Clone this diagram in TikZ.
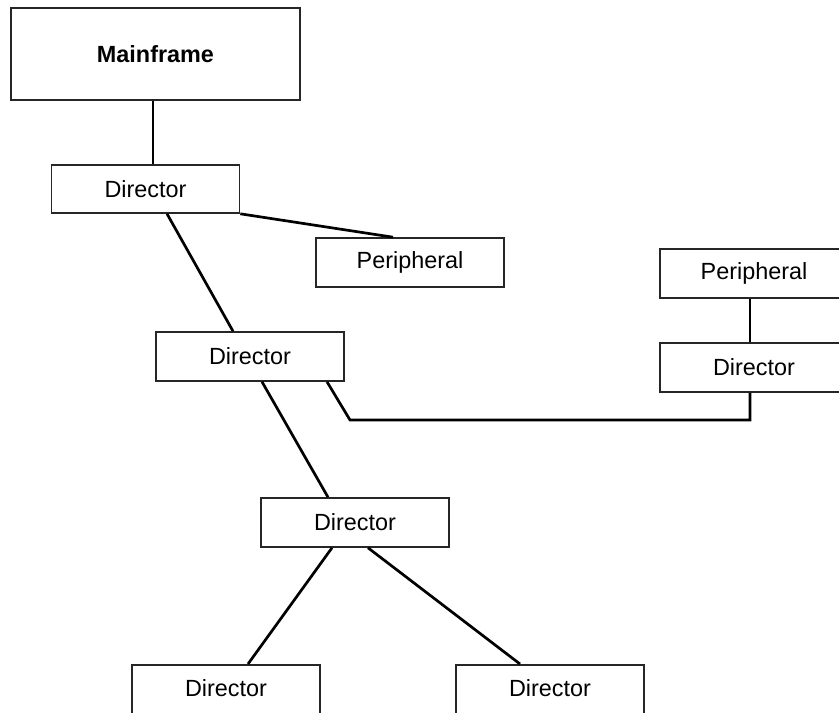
\documentclass[tikz,border=0pt]{standalone}
\usepackage{fontspec}
\setmainfont{Liberation Sans}
\usetikzlibrary{calc}

\tikzset{
  unit/.style={draw=black!85, line width=0.8pt, inner sep=0pt, minimum width=94pt, minimum height=24pt, font=\fontsize{11.7}{14}\selectfont},
  link/.style={line width=1.35pt, line join=miter}
}

\begin{document}
\begin{tikzpicture}[x=0.5pt, y=-0.5pt]
  \useasboundingbox (0,0) rectangle (839,712);
  \begin{scope}
  \clip (0,0) rectangle (839,712);
  % host and top director
  \node[unit, minimum width=144.5pt, minimum height=46pt, font=\fontsize{11.7}{14}\selectfont\bfseries] (main) at (155.5,54) {Mainframe};
  \node[unit] (dirA) at (145.5,189) {Director};
  \node[unit, minimum height=24.5pt] (perA) at (410,262.5) {Peripheral};
  \node[unit, minimum height=24.5pt] (dirB) at (250,356.5) {Director};
  % right branch
  \node[unit, minimum height=24.5pt] (perB) at (754,273.5) {Peripheral};
  \node[unit, minimum height=24.5pt] (dirC) at (754,367.5) {Director};
  % lower tree, bottom edges run off the page
  \node[unit, minimum height=26pt, anchor=north] (dirE) at (226,664) {\raisebox{2.5pt}{Director}};
  \node[unit, minimum height=26pt, anchor=north] (dirF) at (550,664) {\raisebox{2.5pt}{Director}};
  \node[unit, minimum height=24.5pt] (dirD) at (355,522.5) {Director};
  \coordinate (bend) at (350,420);

  \draw[link] ([xshift=-1.25pt]main.south) -- ([xshift=3.75pt]dirA.north);
  \draw[link] (dirA.south east) -- ([xshift=-8.5pt]perA.north);
  \draw[link] ([xshift=10.75pt]dirA.south) -- ([xshift=-8.5pt]dirB.north);
  \draw[link] ([xshift=6pt]dirB.south) -- ([xshift=-13.5pt]dirD.north);
  \draw[link] ([xshift=38.5pt]dirB.south) -- (bend) -| ([xshift=-2pt]dirC.south);
  \draw[link] ([xshift=-2pt]perB.south) -- ([xshift=-2pt]dirC.north);
  \draw[link] ([xshift=-11.5pt]dirD.south) -- ([xshift=11pt]dirE.north);
  \draw[link] ([xshift=6.5pt]dirD.south) -- ([xshift=-15pt]dirF.north);
  \end{scope}
\end{tikzpicture}
\end{document}
